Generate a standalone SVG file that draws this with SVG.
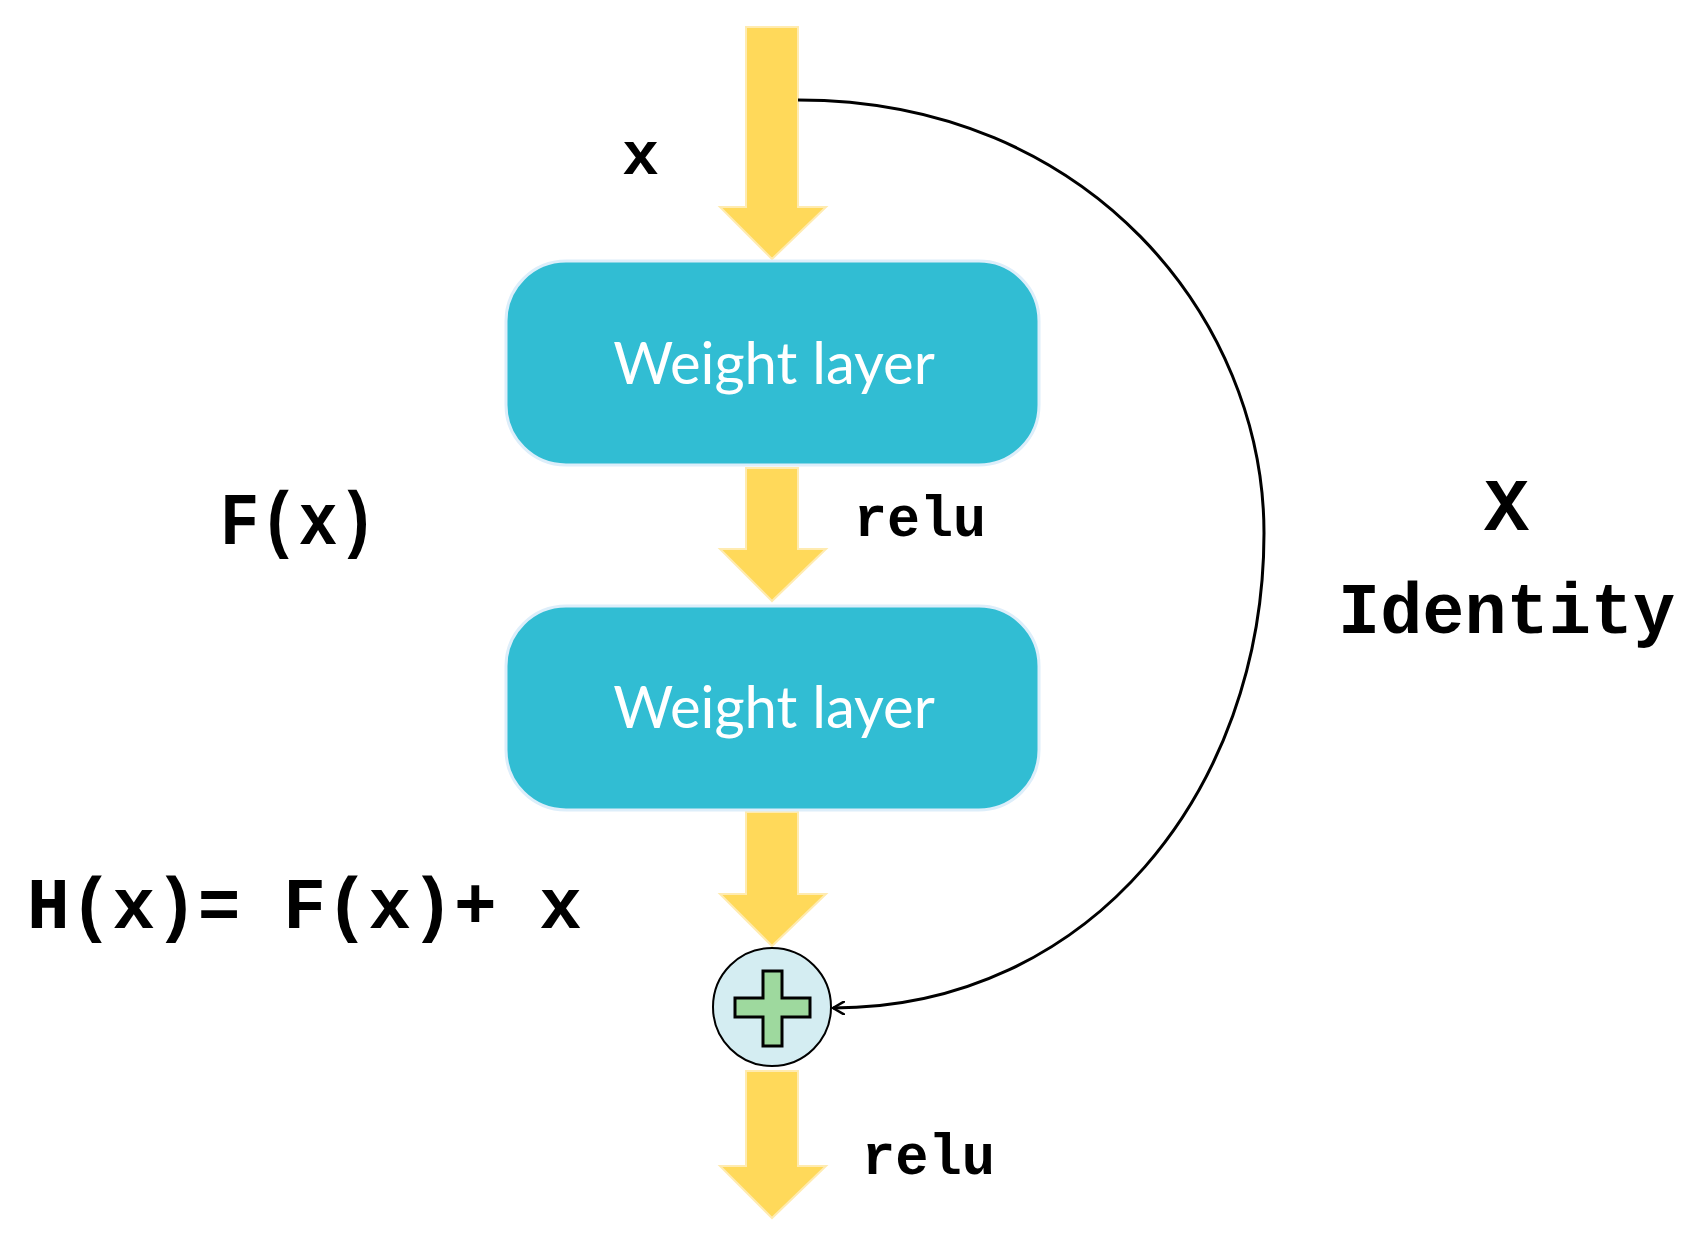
<svg xmlns="http://www.w3.org/2000/svg" width="1703" height="1244" viewBox="0 0 1703 1244">
<style>
.arr{fill:#FFD95A;stroke:#FFEBB0;stroke-width:2}
.box{fill:#31BDD3;stroke:#DDEEFA;stroke-width:3}
.wl{font-family:Lato,"Open Sans",sans-serif;font-size:58px;fill:#fff;text-anchor:middle}
.t{font-family:"Liberation Mono",monospace;font-weight:bold;fill:#000}
</style>
<defs>
<marker id="open" markerWidth="14" markerHeight="14" refX="12" refY="7" orient="auto" markerUnits="userSpaceOnUse" viewBox="0 0 14 14"><path d="M0,0 L12,7 L0,14" fill="none" stroke="#000" stroke-width="2.5"/></marker>
</defs>
<g id="connectors">
<path class="arr" d="M746,27 H798 V207 H826 L772,259 L720,207 H746 Z"/>
<path class="arr" d="M746,468 H798 V549 H826 L772,601 L720,549 H746 Z"/>
<path class="arr" d="M746,812 H798 V894 H826 L772,946 L720,894 H746 Z"/>
<path class="arr" d="M746,1071 H798 V1166 H826 L772,1218 L720,1166 H746 Z"/>
<path d="M798,100 C1090,100 1264,320 1264,533 C1264,790 1090,1008 833,1008" fill="none" stroke="#000" stroke-width="3" marker-end="url(#open)"/>
</g>
<g id="box1"><rect class="box" x="506" y="261" width="533" height="204" rx="60"/><text class="wl" x="774" y="384">Weight layer</text></g>
<g id="box2"><rect class="box" x="506" y="606" width="533" height="204" rx="60"/><text class="wl" x="774" y="728">Weight layer</text></g>
<g id="add">
<circle cx="772" cy="1007" r="59" fill="#D4EDF2" stroke="#000" stroke-width="2"/>
<path d="M763,971 H782 V998 H810 V1017 H782 V1046 H763 V1017 H735 V998 H763 Z" fill="#9ED99E" stroke="#000" stroke-width="3"/>
</g>
<g id="labels">
<text class="t" x="622" y="174" font-size="62">x</text>
<text class="t" x="220" y="544" font-size="75" textLength="157" lengthAdjust="spacingAndGlyphs">F(x)</text>
<text class="t" x="854" y="536" font-size="58" textLength="132" lengthAdjust="spacingAndGlyphs">relu</text>
<text class="t" x="1484" y="530" font-size="75">X</text>
<text class="t" x="1338" y="633" font-size="72" textLength="337" lengthAdjust="spacingAndGlyphs">Identity</text>
<text class="t" x="27" y="928" font-size="72" textLength="555" lengthAdjust="spacingAndGlyphs">H(x)= F(x)+ x</text>
<text class="t" x="862" y="1174" font-size="58" textLength="133" lengthAdjust="spacingAndGlyphs">relu</text>
</g>
</svg>
